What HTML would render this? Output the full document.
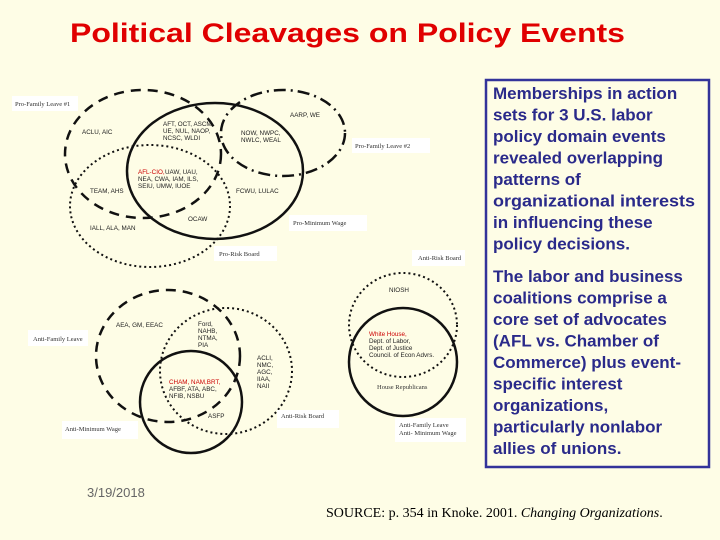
<!DOCTYPE html>
<html><head><meta charset="utf-8"><style>
html,body{margin:0;padding:0;background:#fefde6;}
svg{display:block;}
</style></head><body>
<svg width="720" height="540" viewBox="0 0 720 540" xmlns="http://www.w3.org/2000/svg" font-family="Liberation Sans, sans-serif">
<rect width="720" height="540" fill="#fefde6"/>
<text x="70" y="42" font-size="27" font-weight="bold" fill="#e00000" textLength="555" lengthAdjust="spacingAndGlyphs">Political Cleavages on Policy Events</text>

<g fill="none" stroke="#111">
<ellipse cx="143" cy="154" rx="78" ry="64" stroke-width="2.5" stroke-dasharray="10,7"/>
<ellipse cx="215" cy="171" rx="88" ry="68" stroke-width="2.5"/>
<ellipse cx="283" cy="133" rx="62" ry="43" stroke-width="2.5" stroke-dasharray="12,5,2,5"/>
<ellipse cx="150" cy="206" rx="80" ry="61" stroke-width="2" stroke-dasharray="2,3"/>
</g>
<g fill="none" stroke="#111">
<ellipse cx="168" cy="356" rx="72" ry="66" stroke-width="2.5" stroke-dasharray="10,7"/>
<ellipse cx="226" cy="371" rx="66" ry="63" stroke-width="2" stroke-dasharray="2,3"/>
<ellipse cx="191" cy="402" rx="51" ry="51" stroke-width="2.5"/>
<ellipse cx="403" cy="325" rx="54" ry="52" stroke-width="2" stroke-dasharray="2,3"/>
<ellipse cx="403" cy="362" rx="54" ry="54" stroke-width="2.5"/>
</g>

<g font-family="Liberation Serif, serif" font-size="6.5" fill="#333">
<rect x="12" y="96" width="66" height="15" fill="#fff"/><text x="15" y="106">Pro-Family Leave #1</text>
<rect x="352" y="138" width="78" height="15" fill="#fff"/><text x="355" y="148">Pro-Family Leave #2</text>
<rect x="289" y="215" width="78" height="16" fill="#fff"/><text x="293" y="225">Pro-Minimum Wage</text>
<rect x="214" y="246" width="63" height="15" fill="#fff"/><text x="219" y="256">Pro-Risk Board</text>
<rect x="412" y="250" width="53" height="16" fill="#fff"/><text x="418" y="260">Anti-Risk Board</text>
<rect x="28" y="330" width="60" height="16" fill="#fff"/><text x="33" y="341">Anti-Family Leave</text>
<rect x="62" y="421" width="76" height="18" fill="#fff"/><text x="65" y="431">Anti-Minimum Wage</text>
<rect x="277" y="410" width="62" height="18" fill="#fff"/><text x="281" y="418">Anti-Risk Board</text>
<rect x="395" y="418" width="71" height="24" fill="#fff"/><text x="399" y="427">Anti-Family Leave</text><text x="399" y="435">Anti- Minimum Wage</text>
<text x="377" y="389">House Republicans</text>
</g>

<g font-size="6.3" fill="#222">
<text x="82" y="134">ACLU, AIC</text>
<text x="163" y="126">AFT, OCT, ASCM</text><text x="163" y="133">UE, NUL, NAOP,</text><text x="163" y="140">NCSC, WLDI</text>
<text x="290" y="117">AARP, WE</text>
<text x="241" y="135">NOW, NWPC,</text><text x="241" y="142">NWLC, WEAL</text>
<text x="138" y="174" fill="#c00">AFL-CIO,</text><text x="165" y="174">UAW, UAU,</text><text x="138" y="181">NEA, CWA, IAM, ILS,</text><text x="138" y="188">SEIU, UMW, IUOE</text>
<text x="90" y="193">TEAM, AHS</text>
<text x="236" y="193">FCWU, LULAC</text>
<text x="188" y="221">OCAW</text>
<text x="90" y="230">IALL, ALA, MAN</text>
<text x="389" y="292">NIOSH</text>
<text x="116" y="327">AEA, GM, EEAC</text>
<text x="198" y="326">Ford,</text><text x="198" y="333">NAHB,</text><text x="198" y="340">NTMA,</text><text x="198" y="347">PIA</text>
<text x="257" y="360">ACLI,</text><text x="257" y="367">NMC,</text><text x="257" y="374">AGC,</text><text x="257" y="381">IIAA,</text><text x="257" y="388">NAII</text>
<text x="169" y="384" fill="#c00">CHAM, NAM,BRT,</text><text x="169" y="391">AFBF, ATA, ABC,</text><text x="169" y="398">NFIB, NSBU</text>
<text x="208" y="418">ASFP</text>
<text x="369" y="336" fill="#c00">White House,</text><text x="369" y="343">Dept. of Labor,</text><text x="369" y="350">Dept. of Justice</text><text x="369" y="357">Council. of Econ Advrs.</text>
</g>

<rect x="486" y="80" width="223" height="387" fill="none" stroke="#33339a" stroke-width="2.5"/>
<g font-size="17" font-weight="bold" fill="#2a2a8a">
<text x="493" y="99">Memberships in action</text>
<text x="493" y="120.5">sets for 3 U.S. labor</text>
<text x="493" y="142">policy domain events</text>
<text x="493" y="163.5">revealed overlapping</text>
<text x="493" y="185">patterns of</text>
<text x="493" y="206.5" textLength="202" lengthAdjust="spacingAndGlyphs">organizational interests</text>
<text x="493" y="228">in influencing these</text>
<text x="493" y="249.5">policy decisions.</text>
<text x="493" y="282">The labor and business</text>
<text x="493" y="303.5">coalitions comprise a</text>
<text x="493" y="325">core set of advocates</text>
<text x="493" y="346.5">(AFL vs. Chamber of</text>
<text x="493" y="368">Commerce) plus event-</text>
<text x="493" y="389.5">specific interest</text>
<text x="493" y="411">organizations,</text>
<text x="493" y="432.5">particularly nonlabor</text>
<text x="493" y="454">allies of unions.</text>
</g>
<text x="87" y="497" font-size="13" fill="#666">3/19/2018</text>
<text x="326" y="517" font-size="14" font-family="Liberation Serif, serif" fill="#000">SOURCE: p. 354 in Knoke. 2001. <tspan font-style="italic">Changing Organizations</tspan>.</text>
</svg>
</body></html>
